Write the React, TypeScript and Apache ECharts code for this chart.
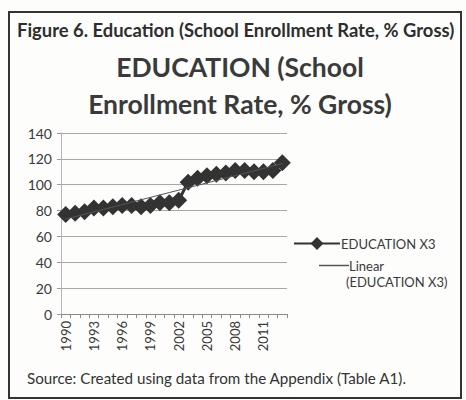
import React, { useEffect, useRef } from "react";
import * as echarts from "echarts";

const years = [
  "1990", "1991", "1992", "1993", "1994", "1995", "1996", "1997",
  "1998", "1999", "2000", "2001", "2002", "2003", "2004", "2005",
  "2006", "2007", "2008", "2009", "2010", "2011", "2012", "2013",
];
const education = [
  77, 78, 79, 82, 82, 83, 84, 84, 83, 84, 86, 86, 88, 102, 105, 107, 108, 109,
  111, 111, 110, 110, 111, 117,
];
const yMin = 0;
const yMax = 140;
const yStep = 20;

const seriesName = "EDUCATION X3";
const trendName = "Linear (EDUCATION X3)";
const trendLine1 = "Linear";
const trendLine2 = "(EDUCATION X3)";
const figureTitle = "Figure 6. Education (School Enrollment Rate, % Gross)";
const chartTitle = "EDUCATION (School\nEnrollment Rate, % Gross)";
const sourceNote = "Source: Created using data from the Appendix (Table A1).";

// least-squares linear trend of the series (as Excel's "Linear" trendline)
function linearTrend(values: number[]): number[] {
  const n = values.length;
  let sx = 0, sy = 0, sxy = 0, sxx = 0;
  values.forEach((v, i) => {
    const x = i + 1;
    sx += x; sy += v; sxy += x * v; sxx += x * x;
  });
  const slope = (n * sxy - sx * sy) / (n * sxx - sx * sx);
  const intercept = (sy - slope * sx) / n;
  return values.map((_, i) => +(intercept + slope * (i + 1)).toFixed(2));
}

const FONT = "Lato, 'Open Sans', sans-serif";

export default function App() {
  const ref = useRef<HTMLDivElement>(null);
  useEffect(() => {
    document.body.style.margin = "0";
    if (!ref.current) return;
    const chart = echarts.init(ref.current, undefined, { renderer: "svg" });
    const trend = linearTrend(education);
    chart.setOption({
      animation: false,
      backgroundColor: "#fdfdfc",
      textStyle: { fontFamily: FONT },
      title: [
        {
          text: figureTitle,
          left: 12,
          top: 16,
          textStyle: { fontSize: 18.4, fontWeight: "bold", color: "#2e2e2e", fontFamily: FONT },
        },
        {
          text: chartTitle,
          left: 235,
          top: 43,
          textAlign: "center",
          textStyle: {
            fontSize: 26.5,
            fontWeight: "bold",
            color: "#3a3a3a",
            lineHeight: 37,
            fontFamily: FONT,
          },
        },
      ],
      legend: [
        {
          data: [seriesName],
          left: 288,
          top: 232,
          itemWidth: 46,
          itemHeight: 16,
          itemGap: 4,
          textStyle: { fontSize: 13, color: "#3a3a3a", fontFamily: FONT, padding: [0, 0, 0, -4] },
        },
        {
          data: [{ name: trendName, icon: "rect" }],
          left: 314,
          top: 254,
          itemWidth: 30,
          itemHeight: 1.5,
          itemStyle: { color: "#555555" },
          formatter: () => trendLine1,
          textStyle: { fontSize: 13, color: "#3a3a3a", fontFamily: FONT, padding: [0, 0, 0, -5] },
        },
      ],
      grid: { left: 61, right: 179, top: 133, bottom: 86 },
      xAxis: {
        type: "category",
        data: years,
        boundaryGap: true,
        axisLine: { lineStyle: { color: "#8a8a8a", width: 1 } },
        axisTick: { show: true, interval: 0, length: 4, lineStyle: { color: "#8a8a8a" } },
        axisLabel: {
          interval: 2,
          rotate: 90,
          fontSize: 13,
          color: "#3a3a3a",
          fontFamily: FONT,
          margin: 7,
        },
      },
      yAxis: {
        type: "value",
        min: yMin,
        max: yMax,
        interval: yStep,
        axisLine: { show: true, lineStyle: { color: "#b5b5b5" } },
        axisTick: { show: true, length: 4, lineStyle: { color: "#9a9a9a" } },
        axisLabel: { fontSize: 14, color: "#3a3a3a", fontFamily: FONT, margin: 9 },
        splitLine: { lineStyle: { color: "#a8a8a8", width: 1 } },
      },
      series: [
        {
          name: seriesName,
          type: "line",
          data: education,
          symbol: "diamond",
          symbolSize: 17,
          showSymbol: true,
          showAllSymbol: true,
          itemStyle: { color: "#333333" },
          lineStyle: { color: "#333333", width: 3 },
          z: 2,
        },
        {
          name: trendName,
          type: "line",
          data: trend,
          symbol: "none",
          itemStyle: { color: "#555555" },
          lineStyle: { color: "#555555", width: 1 },
          z: 3,
        },
      ],
      graphic: [
        {
          type: "rect",
          shape: { x: 9, y: 12, width: 452, height: 386 },
          style: { fill: "none", stroke: "#333333", lineWidth: 2 },
          silent: true,
        },
        {
          type: "text",
          left: 346,
          top: 275,
          style: { text: trendLine2, fontSize: 13, fill: "#3a3a3a", fontFamily: FONT },
        },
        {
          type: "text",
          left: 27,
          top: 370,
          style: { text: sourceNote, fontSize: 15.2, fill: "#333333", fontFamily: FONT },
        },
      ],
    });
    return () => chart.dispose();
  }, []);
  return <div ref={ref} style={{ width: 466, height: 400 }} />;
}
